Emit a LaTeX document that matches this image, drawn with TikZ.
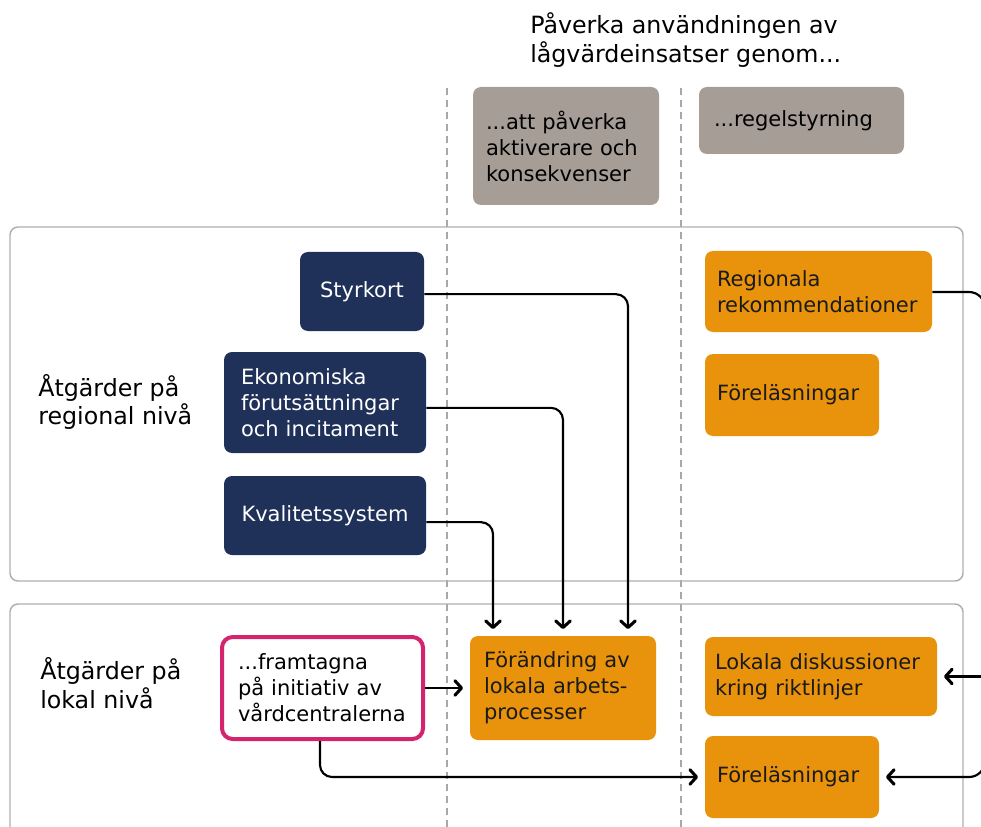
\documentclass[tikz,border=0pt]{standalone}
\usepackage{fontspec}
\setmainfont{DejaVu Sans}
\usetikzlibrary{arrows.meta}
\definecolor{navy}{HTML}{1F3159}
\definecolor{orng}{HTML}{E8930B}
\definecolor{greybox}{HTML}{A69D96}
\definecolor{panelline}{HTML}{B3ADA7}
\definecolor{dashline}{HTML}{A8A8A8}
\definecolor{pinkline}{HTML}{D5246F}
\definecolor{darktext}{HTML}{1A1A1A}
\newcommand{\boxfont}{\fontsize{15.75pt}{19.5pt}\selectfont}
\newcommand{\bigfont}{\fontsize{17.8pt}{21.5pt}\selectfont}
\tikzset{
  basebox/.style={rounded corners=6pt, inner sep=0pt, font=\boxfont},
  greyb/.style={basebox, fill=greybox, text=black, align=left},
  navyb/.style={basebox, fill=navy, text=white},
  orangeb/.style={basebox, fill=orng, text=darktext, align=left},
  pinkb/.style={basebox, draw=pinkline, line width=3pt, rounded corners=8pt, fill=white, text=black, align=left},
  panel/.style={draw=panelline, line width=1.1pt, rounded corners=6pt},
  divider/.style={draw=dashline, line width=1.1pt, dash pattern=on 5pt off 4pt},
  conn/.style={draw=black, line width=1.6pt, rounded corners=9pt},
  arr/.style={conn, -{Straight Barb[length=5pt,width=11pt,line width=2.3pt,round]}, shorten >=5pt},
  lbl/.style={font=\bigfont, align=left, inner sep=0pt, text=black},
}
\begin{document}
\begin{tikzpicture}[x=0.75pt,y=-0.75pt]
\useasboundingbox (0,0) rectangle (981,827);
% dividers
\draw[divider] (447,88) -- (447,827);
\draw[divider] (681,88) -- (681,827);
% panels
\draw[panel] (10,227) rectangle (963,581);
\draw[panel] (10,604) rectangle (963,870);
% title
\node[lbl, anchor=west] (title) at (530,40) {Påverka användningen av\\lågvärdeinsatser genom...};
% headers
\node[greyb, minimum width=139.5pt, minimum height=88.5pt, text width=120pt] (hdrA) at (566,146) {...att påverka\\aktiverare och\\konsekvenser};
\node[greyb, minimum width=153.75pt, minimum height=50.25pt, text width=131.25pt] (hdrB) at (801.5,120.5) {...regelstyrning};
% row labels
\node[lbl, anchor=west] (lreg) at (38,402) {Åtgärder på\\regional nivå};
\node[lbl, anchor=west] (lloc) at (40,683) {Åtgärder på\\lokal nivå};
% regional boxes
\node[navyb, minimum width=93pt, minimum height=59.25pt] (styr) at (362,291.5) {Styrkort};
\node[navyb, align=left, minimum width=151.5pt, minimum height=75.75pt, text width=126pt] (ekon) at (325,402.5) {Ekonomiska\\förutsättningar\\och incitament};
\node[navyb, minimum width=151.5pt, minimum height=59.25pt] (kval) at (325,515.5) {Kvalitetssystem};
\node[orangeb, minimum width=170.25pt, minimum height=60.75pt, text width=152.25pt] (regrek) at (818.5,291.5) {Regionala\\rekommendationer};
\node[orangeb, minimum width=130.5pt, minimum height=61.5pt, text width=112.5pt] (forreg) at (792,395) {Föreläsningar};
% local boxes
\node[pinkb, minimum width=150.75pt, minimum height=76.5pt, text width=126.75pt] (pink) at (322.5,688) {...framtagna\\på initiativ av\\vårdcentralerna};
\node[orangeb, minimum width=139.5pt, minimum height=78pt, text width=118.5pt] (forand) at (563,688) {Förändring av\\lokala arbets-\\processer};
\node[orangeb, minimum width=174pt, minimum height=59.25pt, text width=159pt] (lokdis) at (821,676.5) {Lokala diskussioner\\kring riktlinjer};
\node[orangeb, minimum width=130.5pt, minimum height=61.5pt, text width=112.5pt] (forloc) at (792,777) {Föreläsningar};
% connectors
\draw[arr] ([yshift=-2pt]styr.east) -| (forand.north -| 628,0);
\draw[arr] ([yshift=-4pt]ekon.east) -| (forand.north -| 563,0);
\draw[arr] ([yshift=-5pt]kval.east) -| (forand.north -| 493,0);
\draw[arr] (pink.east) -- (forand.west);
\coordinate (pinkdown) at (320,777);
\draw[arr] (pink.south -| pinkdown) -- (pinkdown |- forloc.west) -- (forloc.west);
\coordinate (rtop) at (985,292);
\coordinate (rmid) at (985,676.5);
\coordinate (rbot) at (985,777);
\draw[arr, rounded corners=12pt] (regrek.east |- rtop) -- (rtop) -- (rbot) -- (forloc.east |- rbot);
\draw[arr] (rmid) -- (lokdis.east);
\end{tikzpicture}
\end{document}
